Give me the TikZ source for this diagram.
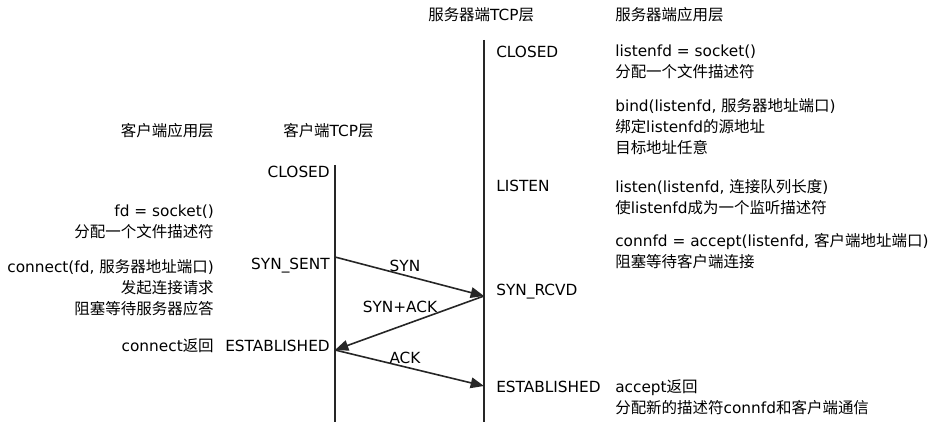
\documentclass[tikz,border=0pt]{standalone}
\usepackage{fontspec}
\setmainfont{DejaVu Sans}
\newfontfamily\zhfont[Scale=1.01]{Noto Sans CJK SC}
\newcommand\zh[1]{{\zhfont #1}}
\usetikzlibrary{arrows.meta}
\begin{document}
\begin{tikzpicture}[x=0.75pt,y=-0.75pt,
  txt/.style={inner sep=0pt, font=\fontsize{11.5}{15.75}\selectfont},
  lefttxt/.style={txt, anchor=north west, align=left},
  righttxt/.style={txt, anchor=north east, align=right},
  lifeline/.style={line width=1.6pt, draw=black!85},
  msg/.style={line width=1.2pt, draw=black!85, -{Triangle[length=10pt,width=8pt]}}]
\useasboundingbox (0,0) rectangle (940,428);
% headers
\node[txt, anchor=west] (hst) at (428,15) {\zh{服务器端}TCP\zh{层}};
\node[txt, anchor=west] (hsa) at (615,15) {\zh{服务器端应用层}};
\node[txt, anchor=east] (hca) at (214,131) {\zh{客户端应用层}};
\node[txt, anchor=west] (hct) at (283,131) {\zh{客户端}TCP\zh{层}};
% lifelines
\coordinate (ctop) at (335,165);
\coordinate (cbot) at (335,422);
\coordinate (stop) at (484,40);
\coordinate (sbot) at (484,422);
\draw[lifeline] (ctop) -- (cbot);
\draw[lifeline] (stop) -- (sbot);
% server states
\node[txt, anchor=west] (sclosed) at (496,52) {CLOSED};
\node[txt, anchor=west] (slisten) at (496,186) {LISTEN};
\node[txt, anchor=west] (srcvd) at (496,292) {SYN\_RCVD};
\node[txt, anchor=west] (sest) at (496,387) {ESTABLISHED};
% server app
\node[lefttxt] (sa1) at (615,45) {listenfd = socket()\\\zh{分配一个文件描述符}};
\node[lefttxt] (sa2) at (615,98) {bind(listenfd, \zh{服务器地址端口})\\\zh{绑定}listenfd\zh{的源地址}\\\zh{目标地址任意}};
\node[lefttxt] (sa3) at (615,179) {listen(listenfd, \zh{连接队列长度})\\\zh{使}listenfd\zh{成为一个监听描述符}};
\node[lefttxt] (sa4) at (615,233) {connfd = accept(listenfd, \zh{客户端地址端口})\\\zh{阻塞等待客户端连接}};
\node[lefttxt] (sa5) at (615,379) {accept\zh{返回}\\\zh{分配新的描述符}connfd\zh{和客户端通信}};
% client states
\node[txt, anchor=east] (cclosed) at (330,172) {CLOSED};
\node[txt, anchor=east] (csent) at (330,266) {SYN\_SENT};
\node[txt, anchor=east] (cest) at (330,346) {ESTABLISHED};
% client app
\node[righttxt] (ca1) at (214,205) {fd = socket()\\\zh{分配一个文件描述符}};
\node[righttxt] (ca2) at (214,259) {connect(fd, \zh{服务器地址端口})\\\zh{发起连接请求}\\\zh{阻塞等待服务器应答}};
\node[txt, anchor=east] (ca3) at (214,346) {connect\zh{返回}};
% messages
\coordinate (c1) at (335,257);
\coordinate (s1) at (484,296);
\coordinate (c2) at (335,350);
\coordinate (s2) at (484,386);
\draw[msg] (c1) -- (s1);
\draw[msg] (s1) -- (c2);
\draw[msg] (c2) -- (s2);
\node[txt] (lsyn) at (405,266) {SYN};
\node[txt] (lsynack) at (400,307) {SYN+ACK};
\node[txt] (lack) at (405,358) {ACK};
\end{tikzpicture}
\end{document}
